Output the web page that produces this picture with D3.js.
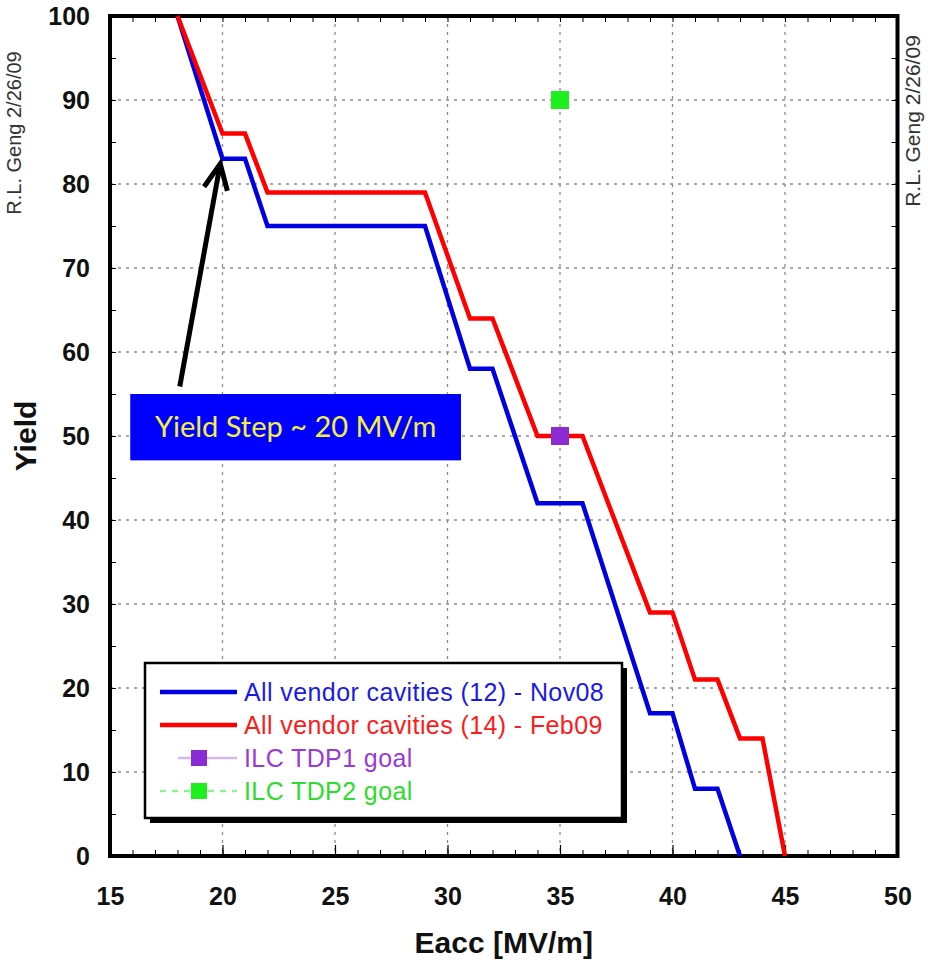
<!DOCTYPE html>
<html>
<head>
<meta charset="utf-8">
<script src="https://cdn.jsdelivr.net/npm/d3@7"></script>
<style>
  body { margin: 0; background: #fff; }
  svg { display: block; font-family: "Liberation Sans", Arial, sans-serif; }
</style>
</head>
<body>
<div id="chart"></div>
<script>
// cumulative yield vs gradient
const eaccNov08 = [18, 20, 21, 22, 29, 31, 32, 34, 36, 39, 40, 41, 42, 43];
const yieldNov08 = [100, 83, 83, 75, 75, 58, 58, 42, 42, 17, 17, 8, 8, 0];
const eaccFeb09 = [18, 20, 21, 22, 29, 31, 32, 34, 36, 39, 40, 41, 42, 43, 44, 45];
const yieldFeb09 = [100, 86, 86, 79, 79, 64, 64, 50, 50, 29, 29, 21, 21, 14, 14, 0];

const goalNames = ['ILC TDP1 goal', 'ILC TDP2 goal'];
const goalEacc = [35, 35];
const goalYield = [50, 90];

const seriesNames = ['All vendor cavities (12) - Nov08', 'All vendor cavities (14) - Feb09'];

const xTicks = [15, 20, 25, 30, 35, 40, 45, 50];
const yTicks = [0, 10, 20, 30, 40, 50, 60, 70, 80, 90, 100];

// annotation, in data units
const noteText = 'Yield Step ~ 20 MV/m';
const noteBox = [[15.9, 55.0], [30.6, 47.1]];
const noteArrow = [[18.1, 55.9], [19.9, 82.4]];

const stamp = 'R.L. Geng 2/26/09';

const W = 928, H = 960;
const margin = {top: 16, right: 30.5, bottom: 104, left: 110};

const svg = d3.select('#chart')
    .append('svg')
    .attr('width', W)
    .attr('height', H);

const x = d3.scaleLinear()
    .domain([15, 50])
    .range([margin.left, W - margin.right]);

const y = d3.scaleLinear()
    .domain([0, 100])
    .range([H - margin.bottom, margin.top]);

const blue = '#0000e0';
const red = '#ff0000';
const purple = '#8a2bd6';
const green = '#1ef01e';

// dotted grid
svg.append('g')
    .selectAll('line')
    .data(xTicks.slice(1, -1))
    .enter()
    .append('line')
    .attr('x1', d => x(d)).attr('x2', d => x(d))
    .attr('y1', y(100)).attr('y2', y(0))
    .attr('stroke', '#8c8c8c')
    .attr('stroke-width', 1.3)
    .attr('stroke-dasharray', '3,5');

svg.append('g')
    .selectAll('line')
    .data(yTicks.slice(1, -1))
    .enter()
    .append('line')
    .attr('x1', x(15)).attr('x2', x(50))
    .attr('y1', d => y(d)).attr('y2', d => y(d))
    .attr('stroke', '#8c8c8c')
    .attr('stroke-width', 1.3)
    .attr('stroke-dasharray', '3,5');

// minor ticks, all pointing inward
const minorX = d3.range(15, 51);
const minorY = d3.range(0, 101, 5);

svg.append('g')
    .attr('transform', `translate(0, ${y(0)})`)
    .call(d3.axisBottom(x).tickValues(minorX).tickSize(-6).tickFormat(''))
    .call(g => g.select('.domain').remove());

svg.append('g')
    .attr('transform', `translate(0, ${y(100)})`)
    .call(d3.axisTop(x).tickValues(minorX).tickSize(-6).tickFormat(''))
    .call(g => g.select('.domain').remove());

svg.append('g')
    .attr('transform', `translate(${x(15)}, 0)`)
    .call(d3.axisLeft(y).tickValues(minorY).tickSize(-6).tickFormat(''))
    .call(g => g.select('.domain').remove());

svg.append('g')
    .attr('transform', `translate(${x(50)}, 0)`)
    .call(d3.axisRight(y).tickValues(minorY).tickSize(-6).tickFormat(''))
    .call(g => g.select('.domain').remove());

// major axes with labels
const xAxis = svg.append('g')
    .classed('x-axis', true)
    .attr('transform', `translate(0, ${y(0)})`)
    .call(d3.axisBottom(x).tickValues(xTicks).tickSize(-11).tickPadding(31));

const yAxis = svg.append('g')
    .classed('y-axis', true)
    .attr('transform', `translate(${x(15)}, 0)`)
    .call(d3.axisLeft(y).tickValues(yTicks).tickSize(0).tickPadding(20));

[xAxis, yAxis].forEach(g => {
    g.select('.domain').remove();
    g.selectAll('line').attr('stroke', '#000').attr('stroke-width', 1.2);
    g.selectAll('text')
        .attr('fill', '#111')
        .style('font-size', '25px')
        .style('font-weight', 'bold');
});

// frame
svg.append('rect')
    .attr('x', x(15))
    .attr('y', y(100))
    .attr('width', x(50) - x(15))
    .attr('height', y(0) - y(100))
    .attr('fill', 'none')
    .attr('stroke', '#000')
    .attr('stroke-width', 4);

// axis titles
svg.append('text')
    .attr('x', (x(15) + x(50)) / 2)
    .attr('y', 953)
    .attr('text-anchor', 'middle')
    .style('font-size', '30px')
    .style('font-weight', 'bold')
    .attr('fill', '#111')
    .text('Eacc [MV/m]');

svg.append('text')
    .attr('transform', `translate(36, ${y(50)}) rotate(-90)`)
    .attr('text-anchor', 'middle')
    .style('font-size', '30px')
    .style('font-weight', 'bold')
    .attr('fill', '#111')
    .text('Yield');

// author stamps
svg.append('text')
    .attr('transform', 'translate(920, 121) rotate(-90)')
    .attr('text-anchor', 'middle')
    .style('font-size', '21px')
    .attr('fill', '#333')
    .text(stamp);

svg.append('text')
    .attr('transform', 'translate(21, 133) rotate(-90)')
    .attr('text-anchor', 'middle')
    .style('font-size', '20px')
    .attr('fill', '#333')
    .text(stamp);

// yield curves
const line = d3.line()
    .x(d => x(d[0]))
    .y(d => y(d[1]));

svg.append('path')
    .datum(d3.zip(eaccNov08, yieldNov08))
    .attr('fill', 'none')
    .attr('stroke', blue)
    .attr('stroke-width', 4.5)
    .attr('d', line);

svg.append('path')
    .datum(d3.zip(eaccFeb09, yieldFeb09))
    .attr('fill', 'none')
    .attr('stroke', red)
    .attr('stroke-width', 4.5)
    .attr('d', line);

// goal markers
const sq = 18;
svg.append('g')
    .selectAll('rect')
    .data(d3.zip(goalEacc, goalYield))
    .enter()
    .append('rect')
    .attr('x', d => x(d[0]) - sq / 2)
    .attr('y', d => y(d[1]) - sq / 2)
    .attr('width', sq)
    .attr('height', sq)
    .attr('fill', (d, i) => i === 0 ? purple : green);

// annotation box
svg.append('rect')
    .attr('x', x(noteBox[0][0]))
    .attr('y', y(noteBox[0][1]))
    .attr('width', x(noteBox[1][0]) - x(noteBox[0][0]))
    .attr('height', y(noteBox[1][1]) - y(noteBox[0][1]))
    .attr('fill', '#0000ff');

svg.append('text')
    .attr('x', (x(noteBox[0][0]) + x(noteBox[1][0])) / 2)
    .attr('y', (y(noteBox[0][1]) + y(noteBox[1][1])) / 2 + 10)
    .attr('text-anchor', 'middle')
    .style('font-family', 'Lato, "Open Sans", sans-serif')
    .style('font-size', '29px')
    .attr('fill', '#f4f03a')
    .text(noteText);

// arrow
const [ax0, ay0] = [x(noteArrow[0][0]), y(noteArrow[0][1])];
const [ax1, ay1] = [x(noteArrow[1][0]), y(noteArrow[1][1])];
const ang = Math.atan2(ay1 - ay0, ax1 - ax0);
const armLen = 28, armAng = 25 * Math.PI / 180;
const arm = s => [ax1 - armLen * Math.cos(ang + s * armAng), ay1 - armLen * Math.sin(ang + s * armAng)];

svg.append('line')
    .attr('x1', ax0).attr('y1', ay0)
    .attr('x2', ax1).attr('y2', ay1)
    .attr('stroke', '#000')
    .attr('stroke-width', 5);

svg.append('path')
    .attr('d', `M${arm(1)}L${ax1},${ay1}L${arm(-1)}`)
    .attr('fill', 'none')
    .attr('stroke', '#000')
    .attr('stroke-width', 5)
    .attr('stroke-linejoin', 'miter');

// legend
const legend = svg.append('g')
    .attr('transform', 'translate(145, 663)');

legend.append('rect')
    .attr('x', 5).attr('y', 5)
    .attr('width', 477).attr('height', 155)
    .attr('fill', '#000');

legend.append('rect')
    .attr('width', 477).attr('height', 155)
    .attr('fill', '#fff')
    .attr('stroke', '#000')
    .attr('stroke-width', 2.5);

const legendItems = [
    {name: seriesNames[0], color: blue, text: '#1a1ae6', kind: 'line'},
    {name: seriesNames[1], color: red, text: '#ff1a1a', kind: 'line'},
    {name: goalNames[0], color: purple, text: '#9a3ad6', kind: 'solid', light: '#d6b6f0'},
    {name: goalNames[1], color: green, text: '#2ddc2d', kind: 'dash', light: '#94ee94'}
];

const rows = legend.selectAll('.item')
    .data(legendItems)
    .enter()
    .append('g')
    .classed('item', true)
    .attr('transform', (d, i) => `translate(0, ${29 + i * 33})`);

rows.filter(d => d.kind === 'line')
    .append('line')
    .attr('x1', 15).attr('x2', 92)
    .attr('stroke', d => d.color)
    .attr('stroke-width', 4.5);

rows.filter(d => d.kind !== 'line')
    .append('line')
    .attr('x1', d => d.kind === 'solid' ? 33 : 15)
    .attr('x2', 92)
    .attr('stroke', d => d.light)
    .attr('stroke-width', 2.5)
    .attr('stroke-dasharray', d => d.kind === 'dash' ? '6,6' : null);

rows.filter(d => d.kind !== 'line')
    .append('rect')
    .attr('x', 54 - 8).attr('y', -8)
    .attr('width', 16).attr('height', 16)
    .attr('fill', d => d.color);

rows.append('text')
    .attr('x', 99)
    .attr('y', 9)
    .style('font-size', '25px')
    .style('letter-spacing', '0.4px')
    .attr('fill', d => d.text)
    .text(d => d.name);
</script>
</body>
</html>
